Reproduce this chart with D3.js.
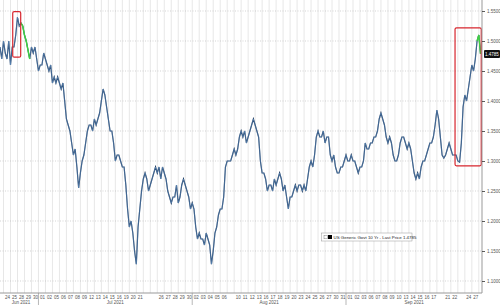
<!DOCTYPE html>
<html>
<head>
<meta charset="utf-8">
<script src="https://cdn.jsdelivr.net/npm/d3@7"></script>
<style>
  body { margin: 0; background: #fff; }
  svg { display: block; font-family: "Liberation Sans", Arial, sans-serif; }
</style>
</head>
<body>
<div id="chart"></div>
<script>
// trading days on the x axis (Jun 24 .. Sep 28, 2021)
var days = ["24","25","28","29","30",
  "01","02","05","06","07","08","09","12","13","14","15","16","19","20","21","22","23","26","27","28","29","30",
  "02","03","04","05","06","09","10","11","12","13","16","17","18","19","20","23","24","25","26","27","30","31",
  "01","02","03","06","07","08","09","10","13","14","15","16","17","20","21","22","23","24","27","28"];
var hiddenDays = [20, 21, 32, 62, 65, 68];   // labels Bloomberg left out
var months = [
  {name: "Jun 2021", start: 0, end: 4},
  {name: "Jul 2021", start: 5, end: 26},
  {name: "Aug 2021", start: 27, end: 48},
  {name: "Sep 2021", start: 49, end: 68}
];
var yTicks = [1.10, 1.15, 1.20, 1.25, 1.30, 1.35, 1.40, 1.45, 1.50, 1.55];

// 10Y yield, four readings per trading day, starting the evening before Jun 24
var startT = -1, stepT = 0.25;
var yields = [
  1.49,1.47,1.50,1.48, 1.47,1.50,1.46,1.49, 1.49,1.51,1.54,1.525, 1.53,1.525,1.51,1.50,
  1.485,1.47,1.49,1.48, 1.49,1.47,1.45,1.46, 1.46,1.48,1.47,1.46, 1.45,1.46,1.43,1.44,
  1.43,1.44,1.43,1.42, 1.43,1.40,1.37,1.36, 1.35,1.33,1.31,1.32, 1.29,1.255,1.28,1.30,
  1.31,1.33,1.35,1.36, 1.36,1.35,1.37,1.36, 1.37,1.38,1.40,1.42, 1.41,1.39,1.37,1.35,
  1.35,1.33,1.30,1.31, 1.31,1.30,1.29,1.29, 1.26,1.22,1.19,1.20, 1.18,1.15,1.128,1.19,
  1.22,1.25,1.27,1.28, 1.27,1.25,1.26,1.27, 1.28,1.29,1.28,1.29, 1.27,1.29,1.28,1.27,
  1.25,1.24,1.23,1.24, 1.24,1.26,1.23,1.24, 1.26,1.27,1.26,1.25, 1.24,1.22,1.23,1.22,
  1.19,1.17,1.18,1.17, 1.17,1.16,1.18,1.17, 1.16,1.128,1.15,1.18, 1.19,1.21,1.22,1.22,
  1.24,1.29,1.30,1.30, 1.30,1.31,1.32,1.31, 1.32,1.34,1.35,1.34, 1.35,1.33,1.34,1.35,
  1.36,1.37,1.36,1.35, 1.34,1.30,1.28,1.28, 1.27,1.25,1.26,1.26, 1.25,1.27,1.26,1.27,
  1.28,1.27,1.25,1.26, 1.24,1.22,1.24,1.24, 1.25,1.26,1.25,1.26, 1.26,1.25,1.26,1.25,
  1.27,1.29,1.30,1.29, 1.31,1.34,1.35,1.34, 1.34,1.35,1.33,1.34, 1.34,1.31,1.30,1.31,
  1.29,1.28,1.28,1.29, 1.29,1.30,1.31,1.30, 1.30,1.31,1.30,1.30, 1.29,1.28,1.29,1.29,
  1.30,1.33,1.32,1.32, 1.33,1.33,1.34,1.34, 1.35,1.37,1.38,1.37, 1.36,1.34,1.33,1.34,
  1.33,1.31,1.30,1.30, 1.31,1.33,1.34,1.34, 1.33,1.32,1.33,1.32, 1.30,1.28,1.27,1.28,
  1.27,1.29,1.30,1.30, 1.31,1.32,1.33,1.33, 1.34,1.36,1.385,1.37, 1.34,1.31,1.305,1.31,
  1.32,1.33,1.32,1.31, 1.31,1.31,1.30,1.298, 1.33,1.39,1.41,1.40, 1.42,1.44,1.46,1.45,
  1.47,1.50,1.51,1.4785
];
var lastPrice = 1.4785;
// green highlighted stretches [fromT, toT]
var greenRanges = [[2.0, 3.25], [67.25, 67.75]];
// red boxes [t0, t1, yieldTop, yieldBottom]
var redBoxes = [[0.82, 1.96, 1.549, 1.473], [64.1, 67.85, 1.522, 1.292]];

var width = 500, height = 305;
var plotRight = 482, plotBottom = 293;

var svg = d3.select("#chart").append("svg")
    .attr("width", width).attr("height", height);

var x = d3.scaleLinear().domain([0, 68]).range([7, 482.3]);
var y = d3.scaleLinear().domain([1.10, 1.55]).range([281, 11]);

var points = yields.map(function (v, i) {
    return {t: startT + i * stepT, v: v};
});

// vertical day grid
svg.append("g").selectAll("line")
    .data(d3.range(-1, 68))
    .enter().append("line")
    .attr("x1", function (d) { return x(d + 0.5); })
    .attr("x2", function (d) { return x(d + 0.5); })
    .attr("y1", 0).attr("y2", plotBottom)
    .attr("stroke", "#d6d6d6").attr("stroke-width", 0.6);

// horizontal dotted grid
svg.append("g").selectAll("line")
    .data(yTicks)
    .enter().append("line")
    .attr("x1", 0).attr("x2", plotRight)
    .attr("y1", function (d) { return y(d); })
    .attr("y2", function (d) { return y(d); })
    .attr("stroke", "#bbb").attr("stroke-width", 0.6)
    .attr("stroke-dasharray", "1,1.5");

// main line
var line = d3.line()
    .x(function (d) { return x(d.t); })
    .y(function (d) { return y(d.v); });

svg.append("path")
    .datum(points)
    .attr("fill", "none")
    .attr("stroke", "#1d3b62")
    .attr("stroke-width", 1.2)
    .attr("stroke-linejoin", "miter")
    .attr("d", line);

svg.append("path")
    .datum(points)
    .attr("fill", "none")
    .attr("stroke", "#7fb0e3")
    .attr("stroke-width", 0.4)
    .attr("d", line);

greenRanges.forEach(function (r) {
    svg.append("path")
        .datum(points.filter(function (d) { return d.t >= r[0] - 1e-6 && d.t <= r[1] + 1e-6; }))
        .attr("fill", "none")
        .attr("stroke", "#3fd13f")
        .attr("stroke-width", 1.4)
        .attr("d", line);
});

// red annotation boxes
svg.append("g").selectAll("rect")
    .data(redBoxes)
    .enter().append("rect")
    .attr("x", function (d) { return x(d[0]); })
    .attr("y", function (d) { return y(d[2]); })
    .attr("width", function (d) { return x(d[1]) - x(d[0]); })
    .attr("height", function (d) { return y(d[3]) - y(d[2]); })
    .attr("rx", 1.5)
    .attr("fill", "none")
    .attr("stroke", "#d7262e")
    .attr("stroke-width", 1.2);

// right axis
var yAxis = d3.axisRight(y)
    .tickValues(yTicks)
    .tickSize(3)
    .tickPadding(2)
    .tickFormat(d3.format(".4f"));

var gy = svg.append("g")
    .attr("transform", "translate(" + plotRight + ",0)")
    .call(yAxis);
gy.select(".domain").attr("stroke", "#999").attr("d", "M0,0V" + plotBottom);
gy.selectAll(".tick line").attr("stroke", "#333").attr("stroke-width", 0.8);
gy.selectAll("text").attr("fill", "#555").style("font-size", "4.5px");

// bottom axis
var xAxis = d3.axisBottom(x)
    .tickValues(d3.range(0, days.length).filter(function (i) { return hiddenDays.indexOf(i) < 0; }))
    .tickSize(0)
    .tickPadding(3)
    .tickFormat(function (i) { return days[i]; });

var gx = svg.append("g")
    .attr("transform", "translate(0," + plotBottom + ")")
    .call(xAxis);
gx.select(".domain").attr("stroke", "#999").attr("d", "M0,0H" + plotRight);
gx.selectAll("text").attr("fill", "#555").style("font-size", "4.5px");

// month separators and names
svg.append("g").selectAll("line")
    .data(months.slice(1))
    .enter().append("line")
    .attr("x1", function (d) { return x(d.start - 0.5); })
    .attr("x2", function (d) { return x(d.start - 0.5); })
    .attr("y1", plotBottom).attr("y2", height)
    .attr("stroke", "#888").attr("stroke-width", 0.6);

svg.append("g").selectAll("text")
    .data(months)
    .enter().append("text")
    .attr("x", function (d) { return (x(Math.max(d.start - 0.5, -1)) + x(Math.min(d.end + 0.5, 68))) / 2; })
    .attr("y", 303.5)
    .attr("text-anchor", "middle")
    .attr("fill", "#555")
    .style("font-size", "4.5px")
    .text(function (d) { return d.name; });

// last price tag
var tag = svg.append("g").attr("transform", "translate(484," + y(lastPrice) + ")");
tag.append("rect")
    .attr("x", 0).attr("y", -4).attr("width", 16).attr("height", 8)
    .attr("rx", 1).attr("fill", "#111");
tag.append("text")
    .attr("x", 8).attr("y", 1.7)
    .attr("text-anchor", "middle")
    .attr("fill", "#fff")
    .style("font-size", "4.5px")
    .text(d3.format(".4f")(lastPrice));

// legend
var lg = svg.append("g").attr("transform", "translate(321.5,233)");
lg.append("rect")
    .attr("width", 90.5).attr("height", 8)
    .attr("fill", "#fff").attr("stroke", "#999").attr("stroke-width", 0.5);
lg.append("rect")
    .attr("x", 2.5).attr("y", 2.2).attr("width", 3.6).attr("height", 3.6)
    .attr("fill", "none").attr("stroke", "#666").attr("stroke-width", 0.4);
lg.append("rect")
    .attr("x", 6.5).attr("y", 2).attr("width", 4).attr("height", 4)
    .attr("fill", "#000");
lg.append("text")
    .attr("x", 12).attr("y", 5.6)
    .attr("fill", "#222")
    .style("font-size", "4.4px")
    .text("US Generic Govt 10 Yr - Last Price " + d3.format(".4f")(lastPrice));
</script>
</body>
</html>
